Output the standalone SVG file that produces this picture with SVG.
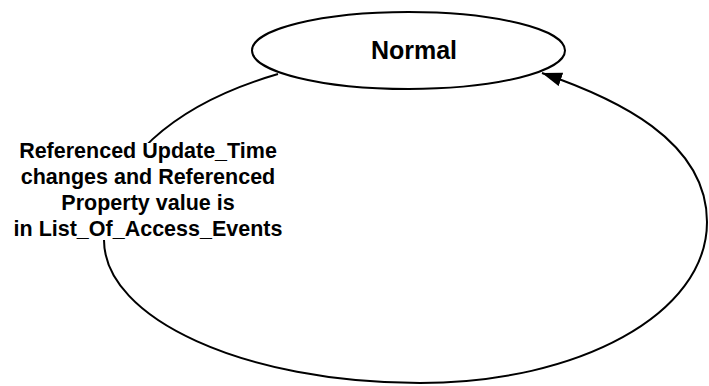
<svg xmlns="http://www.w3.org/2000/svg" width="709" height="386" viewBox="0 0 709 386">
  <style>
    .edge { fill: none; stroke: #000; stroke-width: 2; }
    .node { fill: #fff; stroke: #000; stroke-width: 2; }
    .lbl { font-family: "Liberation Sans", Arial, sans-serif; font-weight: bold; fill: #000; text-anchor: middle; }
  </style>
  <defs>
    <marker id="arrow" markerUnits="userSpaceOnUse" markerWidth="22" markerHeight="16" refX="20" refY="7" orient="auto">
      <path d="M0,0 L20,7 L0,14 z" fill="#000"/>
    </marker>
  </defs>
  <rect width="709" height="386" fill="#fff"/>
  <g id="connectors">
    <path class="edge" marker-end="url(#arrow)" d="M278,74 C175,104 104,163 104,240 C104,319 245.5,383 420,383 C578,383 707,314.5 707,222 C707,140 615,98 542,73"/>
    <g id="edge-label">
      <rect x="13" y="143" width="272" height="97" fill="#fff"/>
      <text class="lbl" font-size="21.5" x="148" y="158">Referenced Update_Time</text>
      <text class="lbl" font-size="21.5" x="148" y="184">changes and Referenced</text>
      <text class="lbl" font-size="21.5" x="148" y="210">Property value is</text>
      <text class="lbl" font-size="21.5" x="148" y="236">in List_Of_Access_Events</text>
    </g>
  </g>
  <g id="normal">
    <ellipse class="node" cx="408.5" cy="50.5" rx="156.5" ry="38.5"/>
    <text class="lbl" font-size="25" x="414" y="59">Normal</text>
  </g>
</svg>
